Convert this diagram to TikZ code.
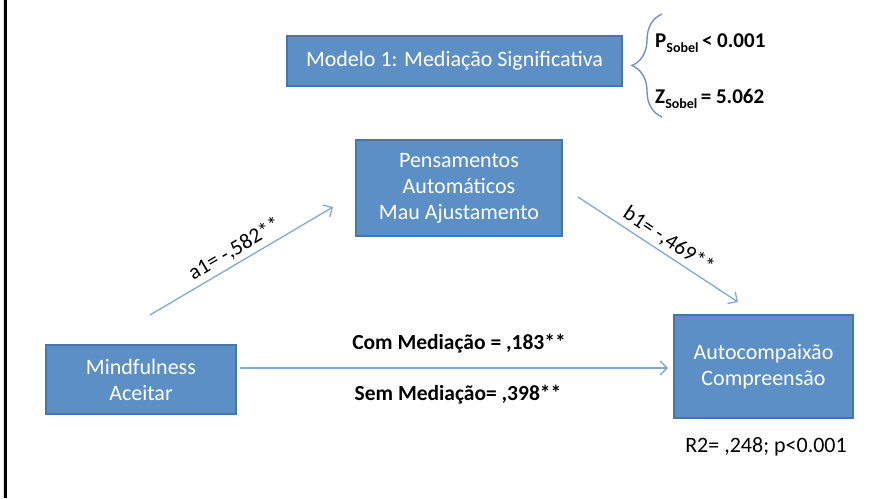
\documentclass[tikz,border=0pt]{standalone}
\usepackage{fontspec}
\setmainfont{Carlito}
\usetikzlibrary{arrows.meta,decorations.pathreplacing}
\definecolor{boxfill}{HTML}{5B8FC6}
\definecolor{boxline}{HTML}{4677AC}
\definecolor{arrowc}{HTML}{82A8D4}
\definecolor{bracec}{HTML}{7295C0}
\begin{document}
\begin{tikzpicture}[x=1pt,y=-1pt,
  bluebox/.style={draw=boxline, line width=1.3pt, fill=boxfill, text=white, align=center, inner sep=0pt, font=\fontsize{22}{26}\selectfont},
  conn/.style={draw=arrowc, line width=1.3pt, -{Straight Barb[length=7pt,width=14pt,line width=1.3pt]}},
  lbl/.style={font=\fontsize{21.5}{24}\selectfont, text=black, inner sep=4pt},
  blbl/.style={font=\bfseries\fontsize{21.5}{24}\selectfont, text=black, inner sep=0pt}]
\useasboundingbox (0,0) rectangle (882,498);
\fill[white] (0,0) rectangle (882,498);
\draw[black!15, line width=1pt] (3,0) -- (3,498);
\draw[black, line width=2.5pt] (5.5,0) -- (5.5,498);

\node[bluebox, minimum width=335pt, minimum height=50pt] (modelo) at (454.5,61) {Modelo 1: Mediação Significativa};
\node[bluebox, minimum width=206pt, minimum height=96pt] (pens) at (459,188) {Pensamentos\\Automáticos\\Mau Ajustamento};
\node[bluebox, minimum width=190pt, minimum height=69pt] (mind) at (141,379.5) {Mindfulness\\Aceitar};
\node[bluebox, minimum width=179pt, minimum height=103pt] (auto) at (763.5,366.5) {Autocompaixão\\Compreensão};

% brace and Sobel statistics
\coordinate (brb) at (662,117);
\coordinate (brt) at (662,14);
\draw[bracec, line width=1.4pt, decorate, decoration={brace, amplitude=30pt}] (brb) -- (brt);
\node[blbl, anchor=west, font=\bfseries\fontsize{21}{24}\selectfont] (psob) at (655,43) {P\raisebox{-0.45ex}{\fontsize{14}{14}\selectfont Sobel}\,< 0.001};
\node[blbl, anchor=west, font=\bfseries\fontsize{21}{24}\selectfont] (zsob) at (655,99) {Z\raisebox{-0.45ex}{\fontsize{14}{14}\selectfont Sobel}\,= 5.062};

% arrows
\coordinate (a1s) at (150,315);
\coordinate (a1e) at (333,207);
\coordinate (b1s) at (578,197);
\coordinate (b1e) at (738,302);
\coordinate (cs) at (240,368);
\coordinate (ce) at (668,368);
\draw[conn] (a1s) -- node[lbl, sloped, above, pos=0.5] (a1l) {a1= -,582**} (a1e);
\draw[conn] (b1s) -- node[lbl, sloped, above, pos=0.52] (b1l) {b1= -,469**} (b1e);
\draw[conn] (cs) -- (ce);

\node[blbl] (com) at (459,344) {Com Mediação = ,183**};
\node[blbl] (sem) at (458,395) {Sem Mediação= ,398**};
\node[lbl, font=\fontsize{22}{24}\selectfont] (r2) at (766,447) {R2= ,248; p<0.001};
\end{tikzpicture}
\end{document}
